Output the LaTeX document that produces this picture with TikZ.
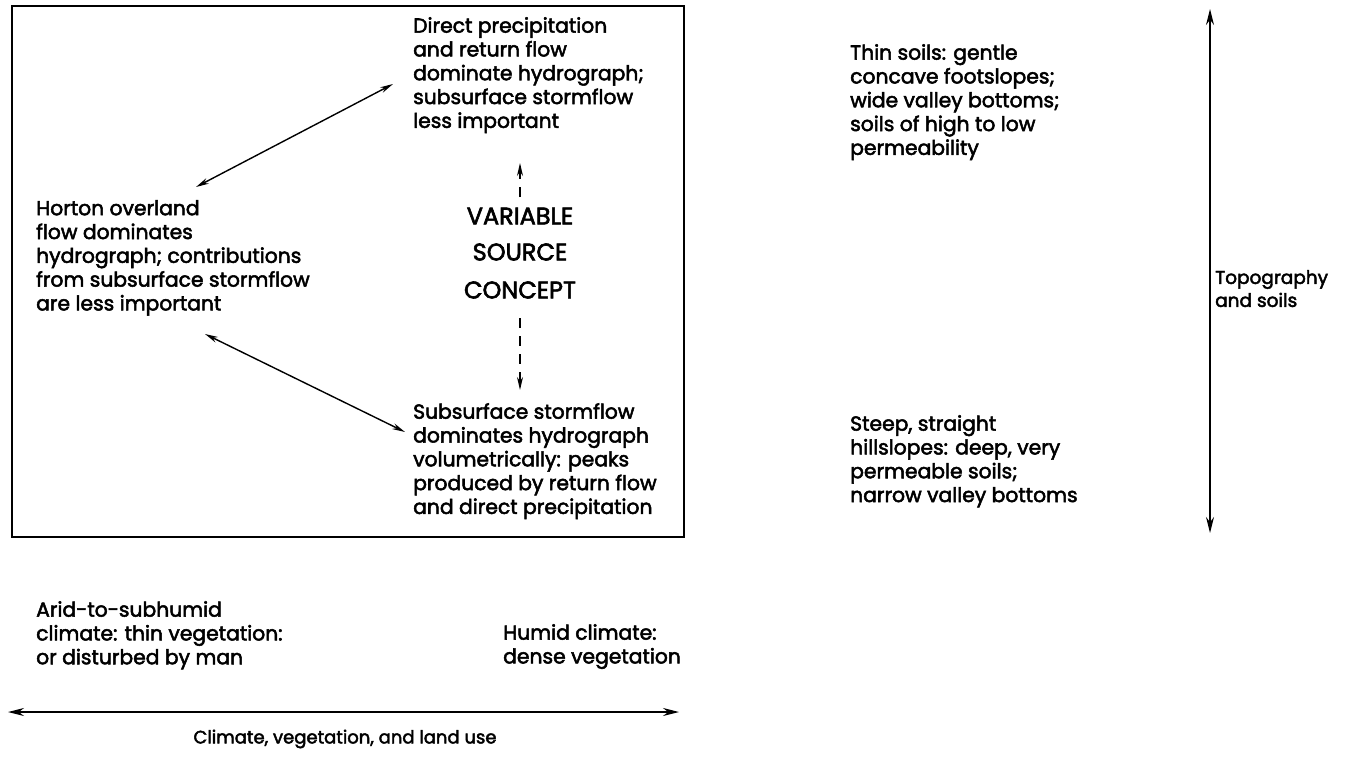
\documentclass[tikz,border=0pt]{standalone}
\usepackage{fontspec}
\setmainfont{Poppins}[FakeBold=2.5]
\usetikzlibrary{arrows.meta}
\begin{document}
\begin{tikzpicture}[x=1pt,y=-1pt,
  txt/.style={inner sep=0pt,align=left,anchor=north west,font=\fontsize{20.3}{23.8}\selectfont},
  caplabel/.style={inner sep=0pt,font=\fontsize{24}{26}\selectfont},
  conn/.style={line width=1.4pt,{Stealth[length=13pt,width=6pt]}-{Stealth[length=13pt,width=6pt]}},
  dasharrow/.style={line width=1.4pt,dash pattern=on 10pt off 8pt,-{Stealth[length=13pt,width=6pt]}},
  axis/.style={line width=1.4pt,{Stealth[length=16pt,width=8pt]}-{Stealth[length=16pt,width=8pt]}}]
\useasboundingbox (0,0) rectangle (1348,762);

% framed panel
\draw[line width=2.4pt] (12,6) rectangle (684,537);

% text blocks inside the panel
\node[txt] (direct) at (413,17) {Direct precipitation\\and return flow\\dominate hydrograph;\\subsurface stormflow\\less important};
\node[txt] (horton) at (36,200) {Horton overland\\flow dominates\\hydrograph; contributions\\from subsurface stormflow\\are less important};
\node[txt] (subsurf) at (413,403) {Subsurface stormflow\\dominates hydrograph\\volumetrically: peaks\\produced by return flow\\and direct precipitation};
\node[caplabel] (var) at (520,216) {VARIABLE};
\node[caplabel] (src) at (520,252) {SOURCE};
\node[caplabel] (con) at (520,290) {CONCEPT};

% connector ends
\coordinate (hUp) at (196,187);
\coordinate (dLo) at (393,84);
\coordinate (hLo) at (205,334);
\coordinate (sUp) at (405,432);
\coordinate (vTop) at (520,197);
\coordinate (dTip) at (520,163);
\coordinate (cBot) at (520,318);
\coordinate (sTip) at (520,390);

\draw[conn] (hUp) -- (dLo);
\draw[conn] (hLo) -- (sUp);
\draw[dasharrow] (vTop) -- (dTip);
\draw[dasharrow] (cBot) -- (sTip);

% climate axis
\node[txt] (arid) at (36,601) {Arid-to-subhumid\\climate: thin vegetation:\\or disturbed by man};
\node[txt] (humid) at (503,624) {Humid climate:\\dense vegetation};
\coordinate (xL) at (8,712);
\coordinate (xR) at (679,712);
\draw[axis] (xL) -- (xR);
\node[caplabel,font=\fontsize{18}{20}\selectfont] (xlab) at (345,739) {Climate, vegetation, and land use};

% topography axis
\node[txt] (thin) at (850,44) {Thin soils: gentle\\concave footslopes;\\wide valley bottoms;\\soils of high to low\\permeability};
\node[txt] (steep) at (850,415) {Steep, straight\\hillslopes: deep, very\\permeable soils;\\narrow valley bottoms};
\coordinate (yT) at (1210,9);
\coordinate (yB) at (1210,533);
\draw[axis] (yT) -- (yB);
\node[txt,font=\fontsize{18.5}{23}\selectfont] (ylab) at (1215,270) {Topography\\and soils};
\end{tikzpicture}
\end{document}
